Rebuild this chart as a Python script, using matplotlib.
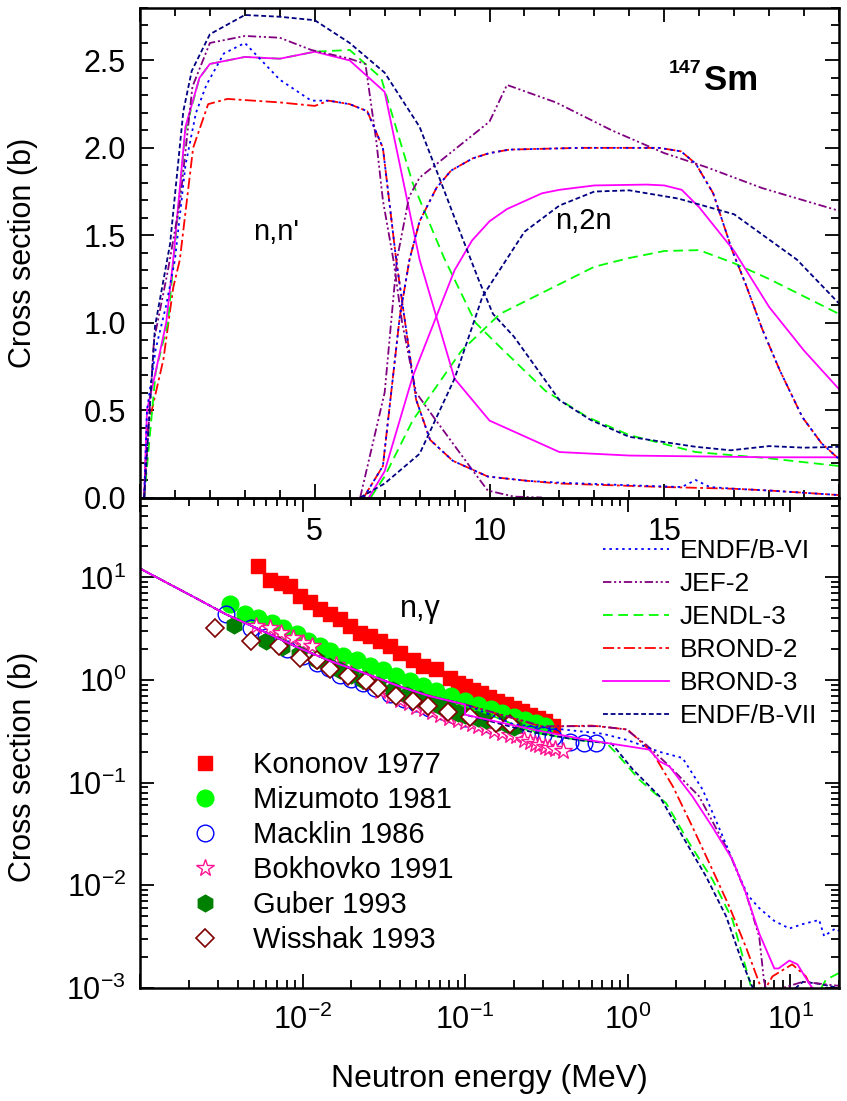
import numpy as np
import matplotlib
matplotlib.use('Agg')
import matplotlib.pyplot as plt
from matplotlib.lines import Line2D
from matplotlib.ticker import MultipleLocator, LogLocator, FuncFormatter, NullFormatter

plt.rcParams['font.family'] = ['Liberation Sans', 'DejaVu Sans']
plt.rcParams['mathtext.fontset'] = 'custom'
plt.rcParams['mathtext.rm'] = 'Liberation Sans'
plt.rcParams['mathtext.it'] = 'Liberation Sans:italic'
plt.rcParams['mathtext.bf'] = 'Liberation Sans:bold'
plt.rcParams['lines.scale_dashes'] = False

# ---- evaluated data, top panel: (n,n') and (n,2n), E in MeV, sigma in b
endf6_nn_E = [0.12, 0.2, 0.45, 0.75, 1.0, 1.3, 1.6, 1.9, 2.4, 3.0, 4.0, 4.9, 5.4, 6.0, 6.5, 6.95, 7.33, 7.9,
              8.3, 8.95, 9.95, 11.1, 12.0, 14.0, 15.5, 15.9, 16.3, 17.0, 18.0, 20.0]
endf6_nn = [0.0, 0.5, 0.85, 1.1, 1.36, 1.9, 2.2, 2.36, 2.54, 2.6, 2.39, 2.27, 2.27, 2.25, 2.21, 2.0, 1.36, 0.56,
            0.33, 0.21, 0.12, 0.095, 0.085, 0.07, 0.06, 0.1, 0.06, 0.05, 0.04, 0.014]

brond2_nn_E = [0.12, 0.19, 0.67, 0.95, 1.14, 1.52, 1.95, 2.5, 4.0, 5.0, 5.4, 6.0, 6.5, 6.95, 7.33, 7.9, 8.3,
               8.95, 9.95, 11.1, 12.0, 15.0, 17.0, 18.0, 20.0]
brond2_nn = [0.0, 0.37, 0.79, 1.2, 1.36, 2.0, 2.25, 2.28, 2.26, 2.24, 2.27, 2.25, 2.21, 2.0, 1.36, 0.56, 0.33,
             0.21, 0.12, 0.095, 0.08, 0.06, 0.05, 0.04, 0.014]
brond2_n2n_E = [6.4, 6.95, 7.43, 7.71, 8.0, 8.48, 8.9, 9.52, 10.0, 10.57, 12.6, 14.86, 15.48, 15.9, 16.4,
                16.95, 17.33, 17.81, 18.3, 18.95, 19.5, 20.0]
brond2_n2n = [0.0, 0.18, 1.03, 1.36, 1.58, 1.77, 1.87, 1.94, 1.97, 1.99, 2.0, 2.0, 1.98, 1.91, 1.74,
              1.41, 1.22, 0.96, 0.73, 0.46, 0.31, 0.22]

jef2_nn_E = [0.12, 0.4, 0.8, 1.15, 1.5, 2.0, 3.0, 4.0, 4.9, 6.0, 6.45, 6.76, 6.95, 7.25, 7.5, 7.9, 8.4, 8.95,
             9.5, 9.95, 10.7, 11.5]
jef2_nn = [0.0, 0.9, 1.3, 1.7, 2.35, 2.6, 2.64, 2.63, 2.56, 2.51, 2.48, 2.04, 1.7, 1.36, 1.0, 0.6, 0.46, 0.31,
           0.16, 0.04, 0.005, 0.0]
jef2_n2n_E = [6.3, 7.0, 7.35, 7.7, 8.0, 9.0, 10.0, 10.5, 11.9, 13.5, 15.0, 16.2, 17.8, 20.0]
jef2_n2n = [0.0, 0.6, 1.36, 1.72, 1.83, 1.99, 2.15, 2.36, 2.26, 2.1, 1.97, 1.89, 1.77, 1.64]

jendl3_nn_E = [0.12, 0.45, 0.8, 1.3, 1.7, 2.0, 3.0, 4.0, 5.0, 6.0, 6.9, 7.8, 8.7, 9.6, 10.1, 11.6, 12.8, 14.0,
               15.9, 18.0, 20.0]
jendl3_nn = [0.0, 0.72, 1.0, 2.1, 2.4, 2.48, 2.52, 2.51, 2.55, 2.56, 2.40, 1.8, 1.37, 1.0, 0.9, 0.61, 0.46,
             0.357, 0.26, 0.224, 0.18]
jendl3_n2n_E = [6.6, 7.0, 7.8, 9.2, 10.3, 12.0, 13.0, 14.0, 15.0, 16.0, 17.0, 18.0, 19.0, 20.0]
jendl3_n2n = [0.0, 0.12, 0.44, 0.84, 1.05, 1.22, 1.32, 1.37, 1.41, 1.415, 1.34, 1.25, 1.15, 1.05]

brond3_nn_E = [0.12, 0.2, 0.45, 0.75, 0.95, 1.3, 1.7, 2.0, 3.0, 4.0, 5.0, 6.0, 7.0, 8.0, 9.0, 10.0, 12.0,
               14.0, 16.0, 18.0, 20.0]
brond3_nn = [0.0, 0.5, 0.72, 1.0, 1.36, 2.12, 2.40, 2.48, 2.52, 2.51, 2.55, 2.50, 2.32, 1.36, 0.68, 0.44,
             0.26, 0.24, 0.235, 0.23, 0.23]
brond3_n2n_E = [6.55, 7.0, 7.8, 9.0, 9.5, 10.0, 10.5, 11.5, 12.0, 13.0, 14.5, 15.0, 15.5, 16.0, 17.0, 18.0,
                19.0, 20.0]
brond3_n2n = [0.0, 0.15, 0.69, 1.30, 1.47, 1.58, 1.65, 1.74, 1.76, 1.785, 1.79, 1.785, 1.76, 1.66, 1.41,
              1.09, 0.84, 0.62]

endf7_nn_E = [0.12, 0.43, 0.86, 1.24, 1.48, 2.0, 3.0, 4.0, 5.0, 6.0, 7.0, 8.0, 8.6, 9.0, 9.7, 10.1, 10.7,
              12.0, 12.9, 14.0, 15.9, 16.9, 18.0, 19.0, 20.0]
endf7_nn = [0.0, 0.98, 1.45, 2.21, 2.44, 2.65, 2.76, 2.75, 2.73, 2.60, 2.43, 2.12, 1.81, 1.6, 1.24, 1.05, 0.92,
            0.557, 0.443, 0.347, 0.29, 0.27, 0.294, 0.285, 0.29]
endf7_n2n_E = [6.3, 7.0, 8.0, 9.0, 9.8, 11.0, 12.0, 13.0, 14.0, 15.4, 17.0, 18.8, 20.0]
endf7_n2n = [0.0, 0.08, 0.25, 0.68, 1.15, 1.52, 1.67, 1.75, 1.757, 1.71, 1.62, 1.36, 1.11]

# ---- evaluated (n,gamma), bottom panel
ng_E_low = [0.001, 0.0014, 0.0022, 0.0034, 0.0057, 0.0092, 0.015, 0.024, 0.04, 0.06, 0.1]
ng_low = [12.2, 9.2, 6.3, 4.35, 3.0, 2.1, 1.52, 1.17, 0.86, 0.7, 0.577]

endf6_ng_E = [0.2, 0.4, 0.7, 1.0, 1.57, 2.18, 2.9, 3.85, 4.88, 5.5, 6.46, 8.0, 9.9, 12.0, 15.1, 16.2, 19.0, 20.0]
endf6_ng = [0.37, 0.33, 0.3, 0.26, 0.2, 0.174, 0.0855, 0.03, 0.0122, 0.008, 0.006, 0.0045, 0.0038, 0.0042,
            0.0046, 0.0032, 0.0038, 0.0036]
jef2_ng_E = [0.3, 0.67, 0.98, 1.3, 1.73, 2.75, 4.23, 5.35, 6.46, 6.9, 7.2, 12.0, 20.0]
jef2_ng = [0.355, 0.355, 0.33, 0.235, 0.155, 0.074, 0.0206, 0.0084, 0.00316, 0.0012, 0.0009, 0.00115, 0.00105]
jendl3_ng_E = [0.26, 0.5, 0.74, 0.85, 1.18, 1.73, 2.4, 3.34, 4.43, 5.6, 6.0, 15.0, 16.6, 20.0]
jendl3_ng = [0.31, 0.26, 0.244, 0.195, 0.107, 0.063, 0.0257, 0.0113, 0.0046, 0.0012, 0.0008, 0.0009, 0.0012,
             0.0014]
brond2_ng_E = [0.3, 0.6, 1.0, 1.43, 1.9, 2.51, 3.34, 4.23, 5.35, 6.46, 6.8, 7.8, 10.3, 12.5, 14.0]
brond2_ng = [0.35, 0.36, 0.33, 0.195, 0.092, 0.037, 0.014, 0.0062, 0.0025, 0.00112, 0.0009, 0.0013, 0.0017,
             0.0013, 0.0009]
brond3_ng_E = [0.1, 0.26, 0.5, 0.74, 1.36, 1.57, 1.81, 2.5, 3.33, 4.43, 5.35, 6.46, 8.0, 8.5, 9.9, 11.1, 13.1,
               14.4]
brond3_ng = [0.46, 0.33, 0.27, 0.244, 0.21, 0.162, 0.144, 0.074, 0.037, 0.0177, 0.0084, 0.0034, 0.00155,
             0.00155, 0.00185, 0.0017, 0.00111, 0.0009]
endf7_ng_E = [0.1, 0.26, 0.5, 0.8, 1.08, 1.57, 2.18, 3.04, 4.04, 5.1, 5.9, 6.5, 10.0, 12.0, 15.0, 20.0]
endf7_ng = [0.46, 0.31, 0.26, 0.24, 0.134, 0.074, 0.03, 0.0122, 0.005, 0.00174, 0.001, 0.0008, 0.0009,
            0.00115, 0.0011, 0.001]

# ---- measured (n,gamma)
kononov_E = [0.0053, 0.0063, 0.0074, 0.0084, 0.0096, 0.0111, 0.0128, 0.0147, 0.017, 0.0195, 0.0225, 0.0259,
             0.0299, 0.0344, 0.0397, 0.0479, 0.0551, 0.0666, 0.0804, 0.0903, 0.1, 0.112, 0.125, 0.141, 0.158,
             0.178, 0.2, 0.224, 0.25, 0.28, 0.31, 0.347]
kononov = [12.9, 9.5, 8.9, 8.2, 6.6, 5.7, 4.9, 4.4, 3.9, 3.35, 2.9, 2.68, 2.39, 2.14, 1.84, 1.58, 1.36, 1.27,
           1.05, 0.94, 0.88, 0.8, 0.74, 0.68, 0.63, 0.58, 0.54, 0.5, 0.46, 0.43, 0.4, 0.36]
mizumoto_E = [0.00357, 0.0044, 0.0053, 0.00645, 0.0076, 0.0092, 0.0108, 0.0128, 0.0147, 0.0178, 0.0215,
              0.0259, 0.0313, 0.0378, 0.0457, 0.0551, 0.0666, 0.0824, 0.1, 0.12, 0.145, 0.17, 0.2, 0.235,
              0.274, 0.31]
mizumoto = [5.46, 4.36, 4.0, 3.6, 3.2, 2.8, 2.4, 2.14, 1.92, 1.72, 1.55, 1.36, 1.24, 1.1, 0.98, 0.88, 0.79,
            0.7, 0.63, 0.57, 0.52, 0.48, 0.44, 0.41, 0.38, 0.36]
macklin_E = [0.0034, 0.0048, 0.006, 0.008, 0.01, 0.0122, 0.0145, 0.0169, 0.02, 0.0235, 0.028, 0.0344, 0.042,
             0.05, 0.06, 0.072, 0.085, 0.1, 0.12, 0.14, 0.17, 0.2, 0.25, 0.3, 0.35, 0.44, 0.54, 0.64]
macklin = [4.35, 3.2, 2.6, 2.0, 1.7, 1.47, 1.3, 1.13, 1.03, 0.94, 0.83, 0.73, 0.66, 0.6, 0.54, 0.5, 0.46, 0.43,
           0.4, 0.37, 0.35, 0.33, 0.3, 0.29, 0.28, 0.25, 0.245, 0.245]
bokhovko_E = [0.0052, 0.0063, 0.0074, 0.00875, 0.0101, 0.0114, 0.016, 0.02, 0.025, 0.03, 0.035, 0.04, 0.045,
              0.05, 0.056, 0.063, 0.07, 0.08, 0.09, 0.1, 0.11, 0.12, 0.135, 0.15, 0.17, 0.19, 0.206, 0.23,
              0.25, 0.27, 0.287, 0.31, 0.33, 0.36, 0.4]
bokhovko = [3.35, 3.23, 2.88, 2.58, 2.31, 2.14, 1.4, 1.15, 0.95, 0.78, 0.7, 0.64, 0.6, 0.55, 0.52, 0.49,
            0.46, 0.43, 0.41, 0.39, 0.37, 0.36, 0.34, 0.32, 0.305, 0.29, 0.283, 0.26, 0.25, 0.24, 0.235,
            0.225, 0.22, 0.215, 0.205]
guber_E = [0.0038, 0.006, 0.0075, 0.0095, 0.0122, 0.0145, 0.0169, 0.02, 0.0235, 0.029, 0.036, 0.044, 0.0526,
           0.06, 0.07, 0.08, 0.09, 0.1, 0.12, 0.135, 0.16, 0.18, 0.2]
guber = [3.4, 2.4, 2.1, 1.8, 1.55, 1.38, 1.25, 1.12, 1.0, 0.9, 0.8, 0.72, 0.65, 0.6, 0.56, 0.52, 0.48, 0.46,
         0.43, 0.41, 0.39, 0.37, 0.35]
wisshak_E = [0.0029, 0.00485, 0.0072, 0.0096, 0.0122, 0.0147, 0.019, 0.0247, 0.0292, 0.0378, 0.0479, 0.059,
             0.0785, 0.107, 0.155, 0.188]
wisshak = [3.23, 2.39, 2.14, 1.64, 1.58, 1.27, 1.09, 0.97, 0.84, 0.7, 0.62, 0.56, 0.49, 0.44, 0.38, 0.37]

# line styles of the evaluations
styles = {
    'ENDF/B-VI': dict(color='#0000FF', ls=(0, (1.8, 2.8))),
    'JEF-2': dict(color='#800080', ls=(0, (6, 2, 1.5, 2, 1.5, 2))),
    'JENDL-3': dict(color='#00FF00', ls=(0, (7, 4))),
    'BROND-2': dict(color='#FF0000', ls=(0, (8, 2.5, 2, 2.5))),
    'BROND-3': dict(color='#FF00FF', ls='-'),
    'ENDF/B-VII': dict(color='#000080', ls=(0, (3.5, 2))),
}
LW = 1.3

fig = plt.figure(figsize=(8.47, 11.01), dpi=100)
W, H = 847.0, 1101.0
x0, x1 = 140, 839
ax1 = fig.add_axes([x0 / W, 1 - 497.5 / H, (x1 - x0) / W, (497.5 - 8) / H])
ax2 = fig.add_axes([x0 / W, 1 - 988 / H, (x1 - x0) / W, (988 - 497.5) / H])
# the 5/10/15 labels of the upper panel sit inside the lower one
ax2.patch.set_visible(False)

# top panel
top_curves = {
    'ENDF/B-VI': [(endf6_nn_E, endf6_nn), (brond2_n2n_E, brond2_n2n)],
    'JEF-2': [(jef2_nn_E, jef2_nn), (jef2_n2n_E, jef2_n2n)],
    'JENDL-3': [(jendl3_nn_E, jendl3_nn), (jendl3_n2n_E, jendl3_n2n)],
    'BROND-2': [(brond2_nn_E, brond2_nn), (brond2_n2n_E, brond2_n2n)],
    'BROND-3': [(brond3_nn_E, brond3_nn), (brond3_n2n_E, brond3_n2n)],
    'ENDF/B-VII': [(endf7_nn_E, endf7_nn), (endf7_n2n_E, endf7_n2n)],
}
# BROND-2 first so the blue dots of ENDF/B-VI sit on top of the red
for name in ['BROND-2', 'JENDL-3', 'BROND-3', 'JEF-2', 'ENDF/B-VI', 'ENDF/B-VII']:
    for E, s in top_curves[name]:
        ax1.plot(E, s, lw=LW, **styles[name])

ax1.set_xlim(0, 20)
ax1.set_ylim(0, 2.8)
ax1.xaxis.set_major_locator(MultipleLocator(5))
ax1.xaxis.set_minor_locator(MultipleLocator(1))
ax1.yaxis.set_major_locator(MultipleLocator(0.5))
ax1.yaxis.set_minor_locator(MultipleLocator(0.1))
ax1.xaxis.set_major_formatter(FuncFormatter(lambda v, p: '%d' % v if 0 < v < 20 else ''))
ax1.yaxis.set_major_formatter(FuncFormatter(lambda v, p: '%.1f' % v))
ax1.text(3.9, 1.52, "n,n'", fontsize=21, ha='center', va='center')
ax1.text(12.7, 1.58, 'n,2n', fontsize=21, ha='center', va='center')
ax1.text(16.14, 2.329, 'Sm', fontsize=25, fontweight='bold', ha='left', va='baseline')
ax1.text(16.06, 2.43, '147', fontsize=14, fontweight='bold', ha='right', va='baseline')

# bottom panel
exp_sets = [
    (kononov_E, kononov, 'Kononov 1977', dict(marker='s', ms=10, mfc='#FF0000', mec='#FF0000')),
    (mizumoto_E, mizumoto, 'Mizumoto 1981', dict(marker='o', ms=12, mfc='#00FF00', mec='#00FF00')),
    (macklin_E, macklin, 'Macklin 1986', dict(marker='o', ms=12, mfc='none', mec='#0000FF', mew=1.0)),
    (bokhovko_E, bokhovko, 'Bokhovko 1991', dict(marker='*', ms=13, mfc='white', mec='#FF1493', mew=1.0)),
    (guber_E, guber, 'Guber 1993', dict(marker='h', ms=12, mfc='#008000', mec='#008000')),
    (wisshak_E, wisshak, 'Wisshak 1993', dict(marker='D', ms=9, mfc='white', mec='#800000', mew=1.2)),
]
marker_handles = []
for E, s, lab, st in exp_sets:
    ax2.plot(E, s, ls='none', **st)
    marker_handles.append(Line2D([], [], ls='none', label=lab, **st))

bottom_curves = [
    ('BROND-2', brond2_ng_E, brond2_ng),
    ('JENDL-3', jendl3_ng_E, jendl3_ng),
    ('ENDF/B-VII', endf7_ng_E, endf7_ng),
    ('JEF-2', jef2_ng_E, jef2_ng),
    ('ENDF/B-VI', endf6_ng_E, endf6_ng),
    ('BROND-3', brond3_ng_E, brond3_ng),
]
for name, E, s in bottom_curves:
    ax2.plot(ng_E_low + E, ng_low + s, lw=LW, **styles[name])

ax2.set_xscale('log')
ax2.set_yscale('log')
ax2.set_xlim(1e-3, 20)
ax2.set_ylim(1e-3, 60)
pow_fmt = FuncFormatter(lambda v, p: r'$\mathregular{10^{%d}}$' % round(np.log10(v)))
ax2.xaxis.set_major_locator(LogLocator(base=10, numticks=10))
ax2.yaxis.set_major_locator(LogLocator(base=10, numticks=10))
ax2.xaxis.set_minor_locator(LogLocator(base=10, subs=np.arange(2, 10), numticks=20))
ax2.yaxis.set_minor_locator(LogLocator(base=10, subs=np.arange(2, 10), numticks=20))
ax2.xaxis.set_major_formatter(FuncFormatter(lambda v, p: '' if v < 5e-3 else pow_fmt(v, p)))
ax2.yaxis.set_major_formatter(pow_fmt)
ax2.xaxis.set_minor_formatter(NullFormatter())
ax2.yaxis.set_minor_formatter(NullFormatter())
ax2.text(0.0533, 4.88, 'n,γ', fontsize=22, ha='center', va='center')

line_handles = [Line2D([], [], lw=LW, label=n, **styles[n]) for n in styles]
leg1 = ax2.legend(handles=line_handles, loc='upper left', bbox_to_anchor=(603 / W, 1 - 539 / H),
                  bbox_transform=fig.transFigure, frameon=False, fontsize=19, borderpad=0,
                  handlelength=2.5, handletextpad=0.4, labelspacing=0.34, borderaxespad=0)
ax2.add_artist(leg1)
ax2.legend(handles=marker_handles, loc='upper left', bbox_to_anchor=(176 / W, 1 - 751 / H),
           bbox_transform=fig.transFigure, frameon=False, fontsize=21, borderpad=0, numpoints=1,
           handlelength=2.0, handletextpad=0.64, labelspacing=0.24, borderaxespad=0)

for ax in (ax1, ax2):
    for sp in ax.spines.values():
        sp.set_linewidth(1.8)
    ax.tick_params(which='both', direction='in', top=True, right=True, labelsize=22, width=1.3)
    ax.tick_params(which='major', length=10)
    ax.tick_params(which='minor', length=5.5)
    ax.set_ylabel('Cross section (b)', fontsize=22)
ax1.tick_params(axis='x', pad=14)
ax1.tick_params(axis='y', pad=10)
ax2.tick_params(axis='x', pad=12)
ax2.tick_params(axis='y', pad=10)
ax1.yaxis.set_label_coords(-0.146, 0.5)
ax2.yaxis.set_label_coords(-0.146, 0.45)
ax2.set_xlabel('Neutron energy (MeV)', fontsize=23, labelpad=20)

fig.savefig('out.png', dpi=100)
